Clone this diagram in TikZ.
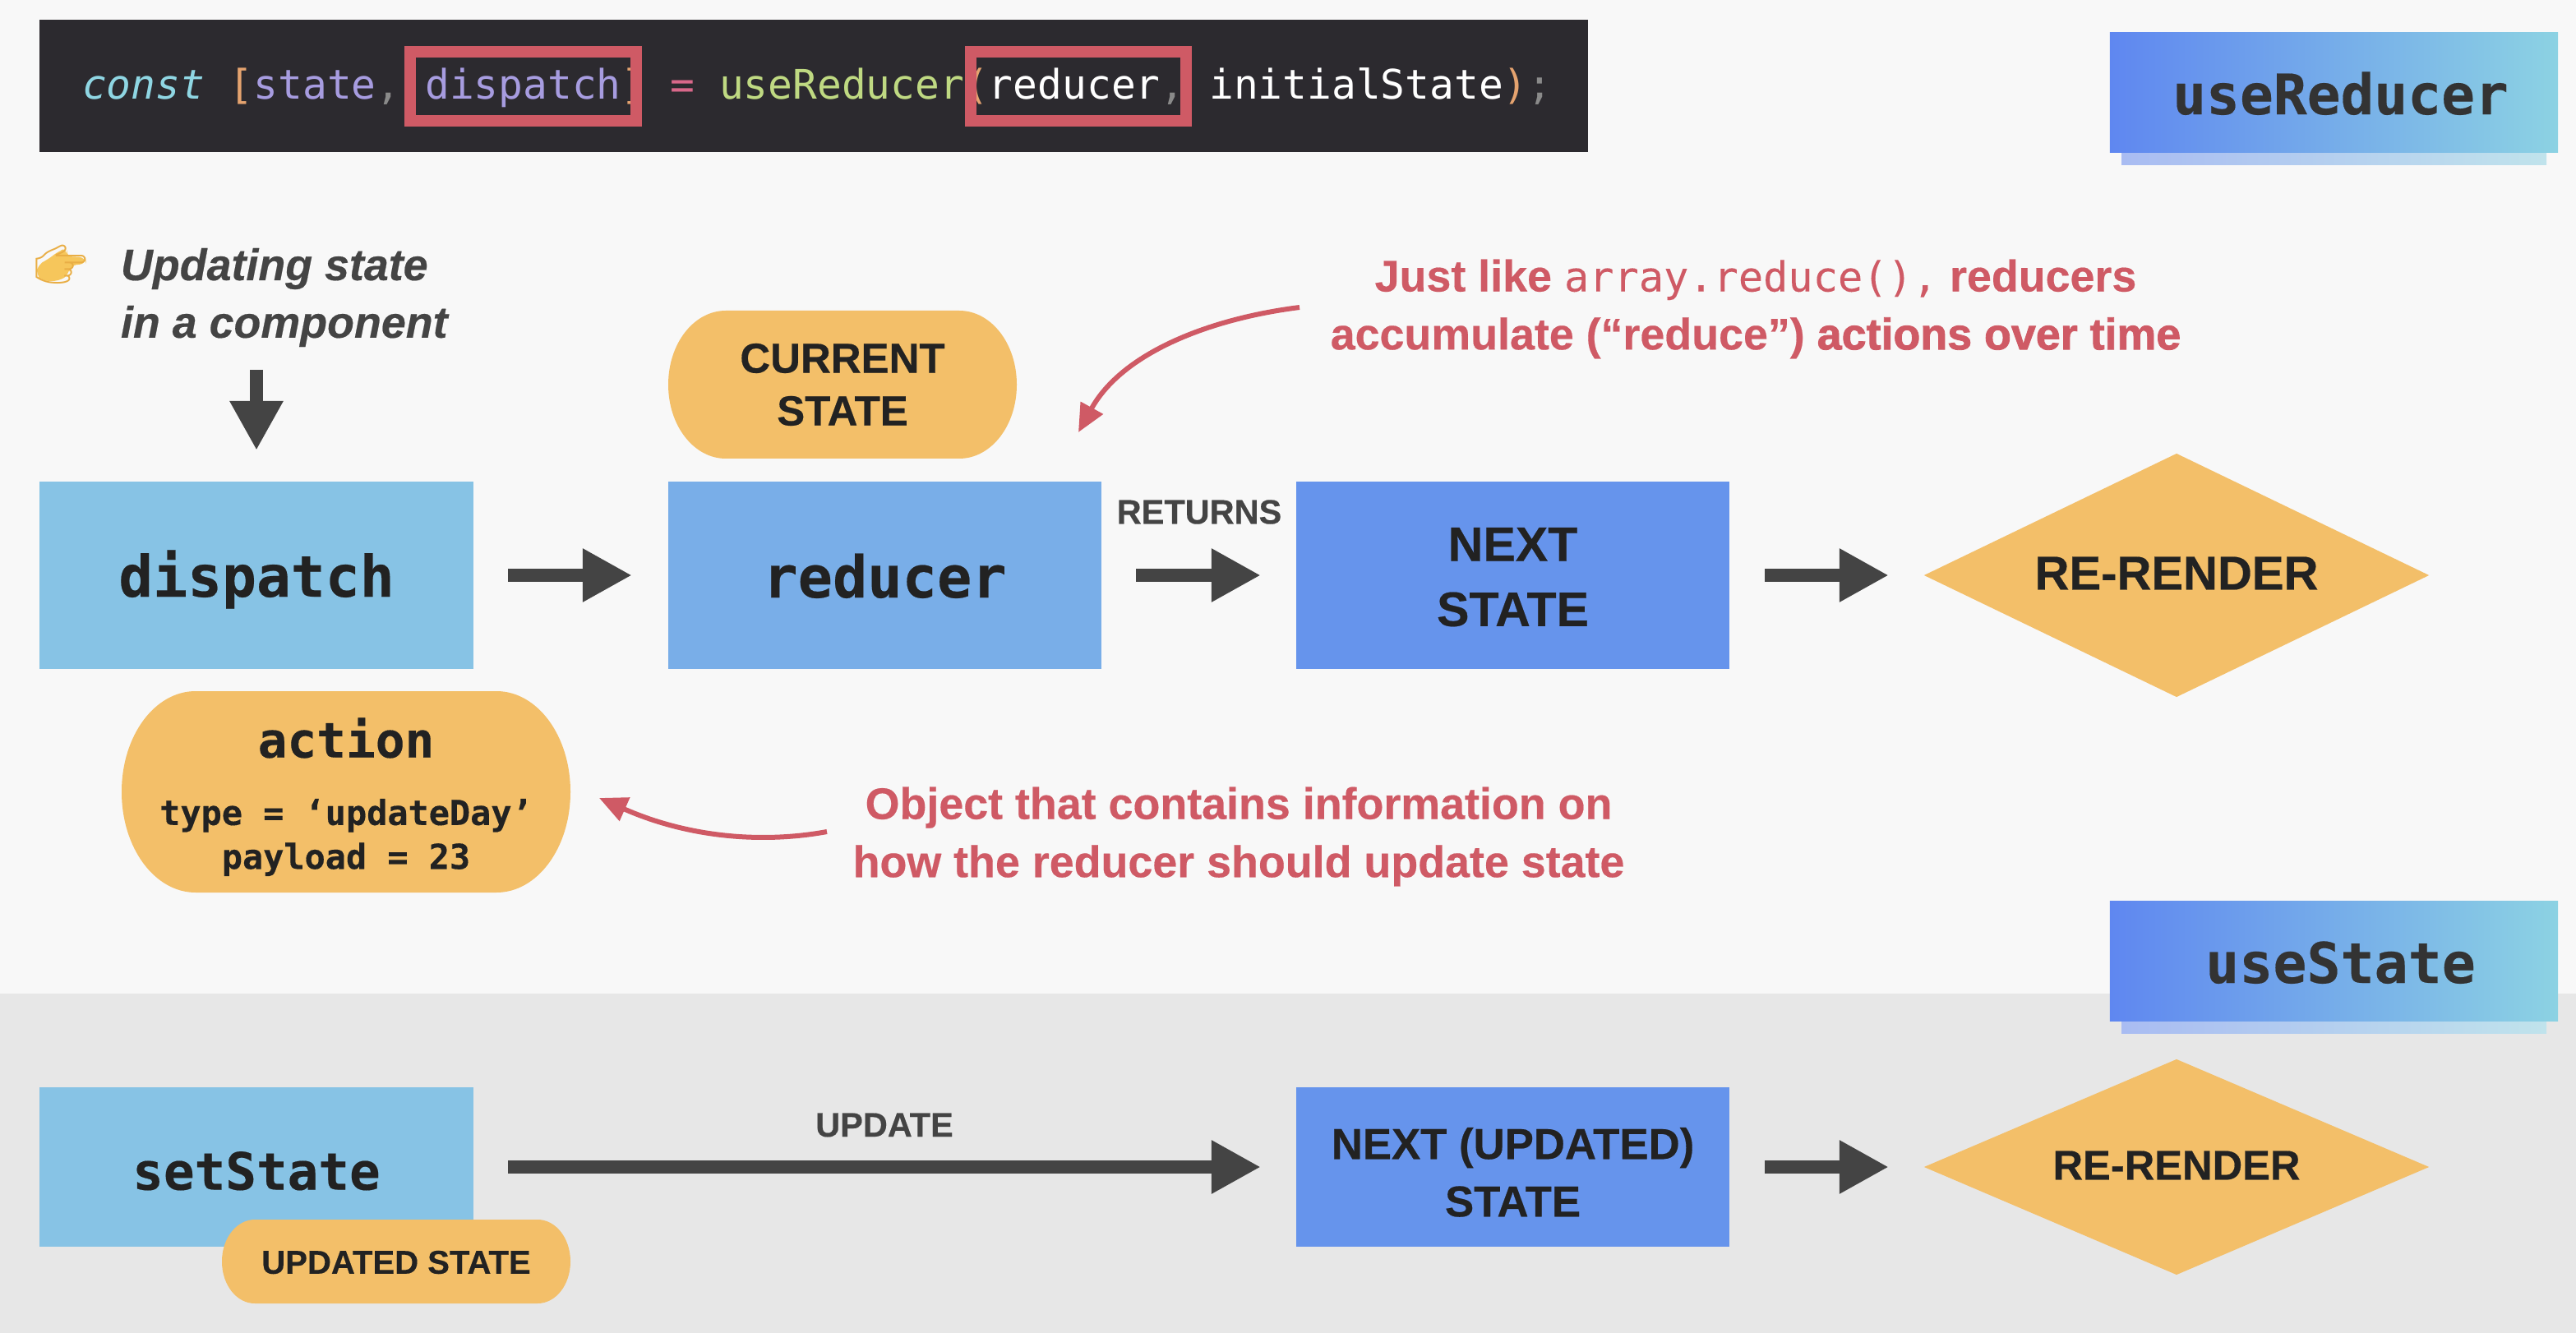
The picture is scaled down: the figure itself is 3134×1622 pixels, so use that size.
\documentclass[tikz,border=0pt]{standalone}
\usepackage{fontspec}
\usetikzlibrary{shapes.geometric,arrows.meta,calc}
\setmainfont[BoldFeatures={FakeBold=0.35},BoldItalicFeatures={FakeBold=0.35}]{Liberation Sans}
\newfontfamily\heavyf[UprightFont={*/B},FakeBold=1.6]{Liberation Sans}
\newfontfamily\monof[BoldFeatures={FakeBold=0.3}]{DejaVu Sans Mono}
\newfontfamily\monomid[FakeBold=0.05]{DejaVu Sans Mono}
\newfontfamily\emojif{Noto Emoji}
\definecolor{bgtop}{HTML}{F8F8F8}
\definecolor{bgbot}{HTML}{E7E7E7}
\definecolor{codebg}{HTML}{2C2A2F}
\definecolor{redc}{HTML}{CF5A65}
\definecolor{dark}{HTML}{444444}
\definecolor{ink}{HTML}{222222}
\definecolor{lblue}{HTML}{87C3E5}
\definecolor{mblue}{HTML}{79AEE8}
\definecolor{dblue}{HTML}{6694EC}
\definecolor{amber}{HTML}{F3BF69}
\definecolor{handc}{HTML}{F6C65B}
\definecolor{handline}{HTML}{E9AE45}
\definecolor{cconst}{HTML}{8FD6E3}
\definecolor{cbrack}{HTML}{E5A36F}
\definecolor{cpurp}{HTML}{A79CE0}
\definecolor{cgrey}{HTML}{8A8A8A}
\definecolor{cpink}{HTML}{D9688A}
\definecolor{cgreen}{HTML}{BFD982}
\definecolor{gradA}{HTML}{5F87F0}
\definecolor{gradB}{HTML}{8CD2E3}
\definecolor{shadA}{HTML}{A9BCF2}
\definecolor{shadB}{HTML}{C0E3EC}
\tikzset{
  plainnode/.style={inner sep=0pt,outer sep=0pt,align=center},
  flowbox/.style={plainnode,minimum width=5.28cm,text=ink},
  flowdiamond/.style={plainnode,diamond,aspect=2,fill=amber,minimum width=6.14cm,text=ink},
  bigarrow/.style={draw=dark,line width=.16cm,-{Triangle[length=.6cm,width=.61cm]}},
  redarrow/.style={draw=redc,line width=.06cm,-{Triangle[length=.34cm,width=.3cm]}},
  badge/.style={plainnode,minimum width=5.45cm,minimum height=1.45cm,left color=gradA,right color=gradB,text={rgb,255:red,51;green,51;blue,51}},
  badgeshadow/.style={left color=shadA,right color=shadB},
  redbox/.style={draw=redc,line width=.14cm},
  sans/.style={font=\bfseries\fontsize{16.8pt}{22.5pt}\selectfont},
  redtext/.style={plainnode,text=redc,font=\bfseries\fontsize{15.3pt}{20.1pt}\selectfont}
}
% squircle-like pill: x1,y1,x2,y2,a
\newcommand{\pillshape}[5]{%
  \fill[amber] ({#1+#5},#2) -- ({#3-#5},#2)
    .. controls ({#3-0.45*#5},#2) and (#3,{#2+0.22*(#4-#2)}) .. (#3,{(#2+#4)/2})
    .. controls (#3,{#4-0.22*(#4-#2)}) and ({#3-0.45*#5},#4) .. ({#3-#5},#4)
    -- ({#1+#5},#4)
    .. controls ({#1+0.45*#5},#4) and (#1,{#4-0.22*(#4-#2)}) .. (#1,{(#2+#4)/2})
    .. controls (#1,{#2+0.22*(#4-#2)}) and ({#1+0.45*#5},#2) .. ({#1+#5},#2) -- cycle;}
\begin{document}
\begin{tikzpicture}[x=0.01cm,y=-0.01cm]
\useasboundingbox (0,0) rectangle (3134,1622);
\fill[bgtop] (0,0) rectangle (3134,1622);
\fill[bgbot] (0,1209) rectangle (3134,1622);
% code strip
\fill[codebg] (48,24) rectangle (1932,185);
\node[plainnode,anchor=base west,font=\monof\fontsize{14.08pt}{16pt}\selectfont] (code) at (100,121) {%
\textcolor{cconst}{\itshape const} \textcolor{cbrack}{[}\textcolor{cpurp}{state}\textcolor{cgrey}{,} \textcolor{cpurp}{dispatch}\textcolor{cbrack}{]} \textcolor{cpink}{=} \textcolor{cgreen}{useReducer}\textcolor{cbrack}{(}\textcolor{white}{reducer}\textcolor{cgrey}{,} \textcolor{white}{initialState}\textcolor{cbrack}{)}\textcolor{cgrey}{;}};
\draw[redbox] (499,63) rectangle (774,147);
\draw[redbox] (1181,63) rectangle (1443,147);
% badges
\fill[badgeshadow] (2581,185) rectangle (3098,201);
\node[badge,text height=.54cm,font=\monof\bfseries\fontsize{19.3pt}{22pt}\selectfont] (ureducer) at (2839.5,112.5) {\hspace*{.16cm}useReducer};
\fill[badgeshadow] (2581,1242) rectangle (3098,1257);
\node[badge,text height=.54cm,font=\monof\bfseries\fontsize{19.4pt}{22pt}\selectfont] (ustate) at (2839.5,1169.5) {\hspace*{.16cm}useState};
% intro
\fill[handc,rounded corners=.08cm] (46,322) -- (58,316) -- (72,305) -- (82,302) -- (80,312) -- (104,313) -- (105,321) -- (85,323) -- (84,334) -- (72,342) -- (52,342) -- (44,335) -- cycle;
\node[plainnode,text=handline,font=\emojif\fontsize{14.7pt}{16pt}\selectfont] (hand) at (74,322) {👉};
\node[plainnode,align=left,anchor=west,text=dark,font=\bfseries\itshape\fontsize{15.3pt}{19.9pt}\selectfont] (intro) at (147,362) {Updating state\\in a component};
\coordinate (downstart) at (312,450);
% main row
\node[flowbox,fill=lblue,minimum height=2.28cm,text height=.65cm,text depth=.13cm,font=\monof\bfseries\fontsize{19.8pt}{22pt}\selectfont] (dispatch) at (312,700) {dispatch};
\node[flowbox,fill=mblue,minimum width=5.27cm,minimum height=2.28cm,text height=.55cm,font=\monof\bfseries\fontsize{20pt}{22pt}\selectfont] (reducer) at (1076.5,700) {reducer};
\node[flowbox,fill=dblue,minimum width=5.27cm,minimum height=2.28cm,sans] (next) at (1840.5,700) {\rule{0pt}{.45cm}NEXT\\STATE};
\node[flowdiamond,minimum height=2.96cm,font=\bfseries\fontsize{16.5pt}{20pt}\selectfont] (render) at (2648,700) {RE-RENDER\rule[-.05cm]{0pt}{.05cm}};
\draw[bigarrow] (downstart) -- ([yshift=.38cm]dispatch.north);
\draw[bigarrow] ([xshift=.42cm]dispatch.east) -- ([xshift=-.44cm]reducer.west);
\draw[bigarrow] ([xshift=.42cm]reducer.east) -- ([xshift=-.43cm]next.west);
\draw[bigarrow] ([xshift=.43cm]next.east) -- ([xshift=-.43cm]render.west);
\node[plainnode,text=dark,font=\bfseries\fontsize{11.8pt}{14pt}\selectfont] (returns) at (1459,623) {RETURNS};
% current state pill
\pillshape{813}{378}{1237}{558}{70}
\node[plainnode,text=ink,font=\bfseries\fontsize{14.5pt}{18.2pt}\selectfont] (current) at (1025,468) {CURRENT\\STATE};
% action pill
\pillshape{148}{841}{694}{1086}{90}
\node[plainnode,text=ink,font=\monof\bfseries\fontsize{16.9pt}{20pt}\selectfont] (action) at (421,898) {action};
\node[plainnode,text=ink,font=\monof\bfseries\fontsize{11.9pt}{15.2pt}\selectfont] (actionbody) at (421,1019) {type = ‘updateDay’\\payload = 23};
% annotations
\node[redtext] (justlike) at (2136,376) {Just like {\monomid\mdseries\fontsize{14.3pt}{15pt}\selectfont array.reduce(),} reducers\\accumulate (“reduce”) {\heavyf\mdseries actions over time}};
\node[redtext] (object) at (1507,1018) {Object that contains information on\\how the reducer should update state};
\coordinate (ra) at (1581,374);
\coordinate (rb) at (1312,526);
\draw[redarrow] (ra) .. controls (1470,388) and (1365,430) .. (rb);
\coordinate (rc) at (1006,1012);
\coordinate (rd) at (729,971);
\draw[redarrow] (rc) .. controls (930,1026) and (840,1020) .. (rd);
% lower row
\node[flowbox,fill=lblue,minimum height=1.94cm,text height=.56cm,font=\monof\bfseries\fontsize{17.8pt}{20pt}\selectfont] (setstate) at (312,1420) {setState};
\node[flowbox,fill=dblue,minimum width=5.27cm,minimum height=1.94cm,font=\bfseries\fontsize{15pt}{19.9pt}\selectfont] (nextup) at (1840.5,1420) {\rule{0pt}{.51cm}NEXT (UPDATED)\\STATE};
\node[flowdiamond,minimum height=2.62cm,font=\bfseries\fontsize{14.4pt}{18pt}\selectfont] (render2) at (2648,1420) {RE-RENDER\rule[-.04cm]{0pt}{.04cm}};
\draw[bigarrow] ([xshift=.42cm]setstate.east) -- ([xshift=-.43cm]nextup.west);
\draw[bigarrow] ([xshift=.43cm]nextup.east) -- ([xshift=-.43cm]render2.west);
\node[plainnode,text=dark,font=\bfseries\fontsize{11.8pt}{14pt}\selectfont] (update) at (1076,1369) {UPDATE};
\pillshape{270}{1484}{694}{1586}{40}
\node[plainnode,text=ink,font=\bfseries\fontsize{11.4pt}{13pt}\selectfont] (updated) at (482,1536) {UPDATED STATE};
\end{tikzpicture}
\end{document}
